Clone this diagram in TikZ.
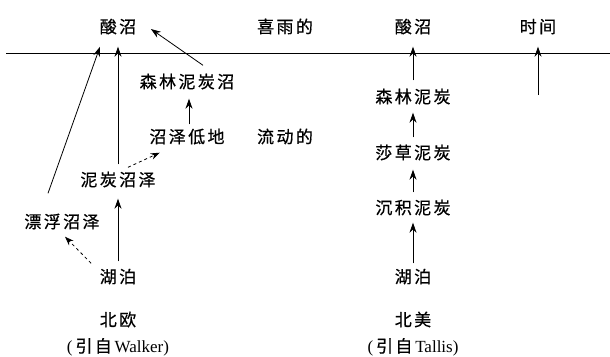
\documentclass[tikz,border=0pt]{standalone}
\usepackage{fontspec}
\setmainfont{Liberation Serif}
\newfontfamily\cjk[LetterSpace=14,FakeBold=0.6]{Noto Sans CJK SC}
\usetikzlibrary{arrows.meta,calc}
\tikzset{
  lbl/.style={font=\cjk\fontsize{17}{19}\selectfont, inner sep=7.5pt, text depth=2pt, text height=14pt},
  src/.style={font=\fontsize{17}{19}\selectfont, inner sep=2pt},
  arr/.style={line width=0.8pt, -{Stealth[length=10pt,width=7pt]}},
  darr/.style={line width=0.8pt, dash pattern=on 3pt off 3pt, -{Stealth[length=9pt,width=6.5pt]}},
  axis/.style={line width=0.8pt}
}
\begin{document}
\begin{tikzpicture}[x=1pt,y=-1pt]
\useasboundingbox (0,0) rectangle (610,356);
\coordinate (axL) at (6,53);
\coordinate (axR) at (610,53);
\draw[axis] (axL) -- (axR);
% top row
\node[lbl] (acidL) at (118,27) {酸沼};
\node[lbl] (rain) at (285,27) {喜雨的};
\node[lbl] (acidR) at (413,27) {酸沼};
\node[lbl] (time) at (538,27) {时间};
% left column
\node[lbl] (forestbog) at (187,82) {森林泥炭沼};
\node[lbl] (lowland) at (187,137) {沼泽低地};
\node[lbl] (flow) at (285,137) {流动的};
\node[lbl] (peatL) at (118,180) {泥炭沼泽};
\node[lbl] (float) at (62,222) {漂浮沼泽};
\node[lbl] (lakeL) at (118,277) {湖泊};
\node[lbl] (nEu) at (118,320) {北欧};
\node[src] (walker) at (118,347) {(\,{\cjk 引自}\,Walker)};
% right column
\node[lbl] (forestpeat) at (413,97) {森林泥炭};
\node[lbl] (sedge) at (413,153) {莎草泥炭};
\node[lbl] (sedim) at (413,208) {沉积泥炭};
\node[lbl] (lakeR) at (413,277) {湖泊};
\node[lbl] (nAm) at (413,320) {北美};
\node[src] (tallis) at (413,347) {(\,{\cjk 引自}\,Tallis)};
\coordinate (timebase) at (538,95);
% left arrows
\draw[arr] (lakeL.north) -- ([yshift=-3pt]peatL.south);
\draw[arr] (peatL.north) -- ([yshift=-4pt]acidL.south);
\draw[arr] ([xshift=-14pt,yshift=13pt]float.north) -- ([xshift=-18pt,yshift=-4pt]acidL.south);
\draw[arr] ([xshift=16pt,yshift=1pt]forestbog.north) -- ([xshift=7pt,yshift=-2pt]acidL.east);
\draw[arr] ([xshift=2pt,yshift=-3pt]lowland.north) -- ([xshift=2pt,yshift=-1pt]forestbog.south);
\draw[darr] ([xshift=10pt,yshift=-3pt]peatL.north) -- ([xshift=18pt]lowland.south west);
\draw[darr] ([xshift=-1pt,yshift=-2pt]lakeL.north west) -- ([xshift=3pt,yshift=1pt]float.south);
% right arrows
\draw[arr] ([yshift=1pt]forestpeat.north) -- ([yshift=-4pt]acidR.south);
\draw[arr] (sedge.north) -- (forestpeat.south);
\draw[arr] (sedim.north) -- ([yshift=-1pt]sedge.south);
\draw[arr] ([yshift=-2pt]lakeR.north) -- ([yshift=1pt]sedim.south);
\draw[arr] (timebase) -- ([yshift=-4pt]time.south);
\end{tikzpicture}
\end{document}
